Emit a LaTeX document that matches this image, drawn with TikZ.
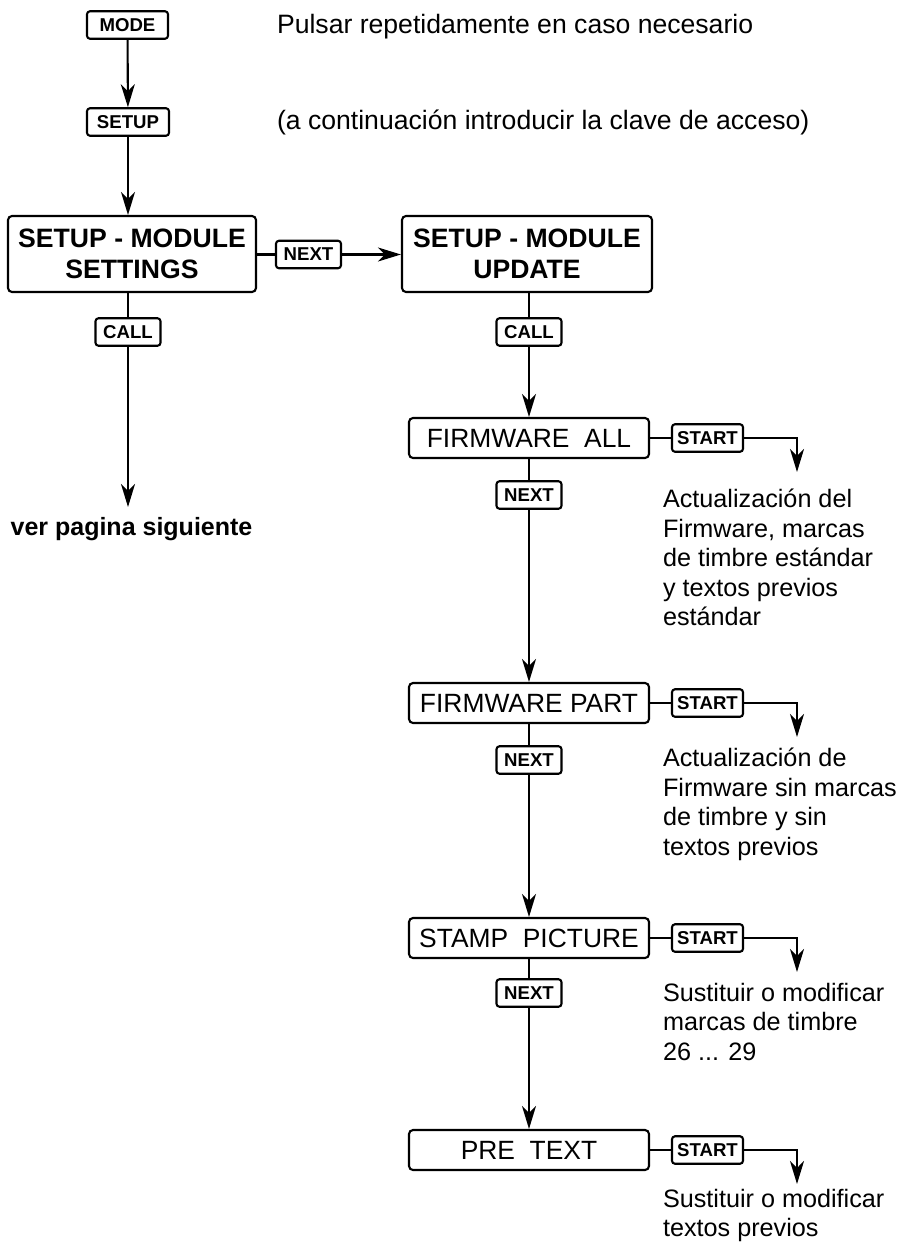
\documentclass[tikz,border=0pt]{standalone}
\usepackage{fontspec}
\setmainfont{Liberation Sans}
\usetikzlibrary{arrows.meta, positioning}

\begin{document}
\begin{tikzpicture} [x=0.5pt, y=-0.5pt, line width=1.05pt,
	> = {Stealth[length=11.5pt, width=7pt, inset=3.5pt]},
	key/.style = {draw, rounded corners=1.5pt, inner sep=0pt, minimum width=32.5pt,
		minimum height=13.75pt, font=\fontsize{9.3}{11}\selectfont\bfseries},
	bigbox/.style = {draw, rounded corners=2pt, inner sep=0pt, align=center,
		minimum width=124pt, minimum height=38pt, font=\fontsize{13.3}{15.5}\selectfont\bfseries},
	menubox/.style = {draw, rounded corners=2pt, inner sep=0pt,
		minimum width=120pt, minimum height=20pt, font=\fontsize{13.2}{16}\selectfont},
	note/.style = {anchor=north west, inner sep=0pt, align=left,
		font=\fontsize{12.6}{14.75}\selectfont}]
			\useasboundingbox (0,0) rectangle (901,1242);
			
			% left column
			\node[key, minimum width=40.5pt] (mode) at (127.5,25) {MODE};
			\node[key, minimum width=41pt] (setup) at (128,122) {SETUP};
			\node[bigbox] (settings) at (132,254) {SETUP - MODULE\\SETTINGS};
			\node[key] (callsettings) at (128,332) {CALL};
			\coordinate (more) at (128,507);
			\node[anchor=base, inner sep=0pt, font=\fontsize{12.5}{15}\selectfont\bfseries]
			(ver) at (131.5,535) {ver pagina siguiente};
			
			\node[anchor=base west, inner sep=0pt, font=\fontsize{13.3}{16}\selectfont]
			(hintmode) at (276,33) {Pulsar repetidamente en caso necesario};
			\node[anchor=base west, inner sep=0pt, font=\fontsize{13.3}{16}\selectfont]
			(hintsetup) at (276,129) {(a continuación introducir la clave de acceso)};
			
			\draw [->] (mode) -- (setup);
			\draw [->] (setup.south) -- (setup.south |- settings.north);
			\draw (callsettings.north |- settings.south) -- (callsettings.north);
			\draw [->] (callsettings.south) -- (more);
			
			% next module
			\node[key] (next) at (308.5,254.5) {NEXT};
			\node[bigbox, minimum width=125pt] (update) at (527,254) {SETUP - MODULE\\UPDATE};
			\node[key] (callupdate) at (529,332) {CALL};
			
			\draw (settings.east |- next) -- (next.west);
			\draw [->] (next.east) -- (next.east -| update.west);
			\draw (callupdate.north |- update.south) -- (callupdate.north);
			
			% update menu
			\node[menubox] (fwall) at (529,438) {FIRMWARE\ \ ALL};
			\node[key] (nextall) at (529,495) {NEXT};
			\node[menubox] (fwpart) at (529,703) {FIRMWARE PART};
			\node[key] (nextpart) at (529,760) {NEXT};
			\node[menubox] (stamp) at (529,938) {STAMP\ \ PICTURE};
			\node[key] (nextstamp) at (529,993) {NEXT};
			\node[menubox] (pretext) at (529,1150) {PRE\ \ TEXT};
			
			\draw [->] (callupdate.south) -- (fwall.north);
			\draw (fwall.south) -- (nextall.north);
			\draw [->] (nextall.south) -- (fwpart.north);
			\draw (fwpart.south) -- (nextpart.north);
			\draw [->] (nextpart.south) -- (stamp.north);
			\draw (stamp.south) -- (nextstamp.north);
			\draw [->] (nextstamp.south) -- (pretext.north);
			
			% start keys
			\node[key, minimum width=35.5pt] (startall) at (707.5,438) {START};
			\node[key, minimum width=35.5pt] (startpart) at (707.5,703) {START};
			\node[key, minimum width=35.5pt] (startstamp) at (707.5,938) {START};
			\node[key, minimum width=35.5pt] (startpre) at (707.5,1150) {START};
			
			\coordinate (tipall) at (797,472);
			\coordinate (tippart) at (797,737);
			\coordinate (tipstamp) at (797,972);
			\coordinate (tippre) at (797,1184);
			
			\draw (fwall.east) -- (startall.west);
			\draw (fwpart.east) -- (startpart.west);
			\draw (stamp.east) -- (startstamp.west);
			\draw (pretext.east) -- (startpre.west);
			
			\draw [->] (startall.east) -| (tipall);
			\draw [->] (startpart.east) -| (tippart);
			\draw [->] (startstamp.east) -| (tipstamp);
			\draw [->] (startpre.east) -| (tippre);
			
			\node[note] (noteall) at (662,488)
			{Actualización del\\Firmware, marcas\\de timbre estándar\\y textos previos\\estándar};
			\node[note] (notepart) at (662,747)
			{Actualización de\\Firmware sin marcas\\de timbre y sin\\textos previos};
			\node[note] (notestamp) at (662,982)
			{Sustituir o modificar\\marcas de timbre\\26 ... 29};
			\node[note] (notepre) at (662,1188)
			{Sustituir o modificar\\textos previos};
		\end{tikzpicture}
\end{document}
